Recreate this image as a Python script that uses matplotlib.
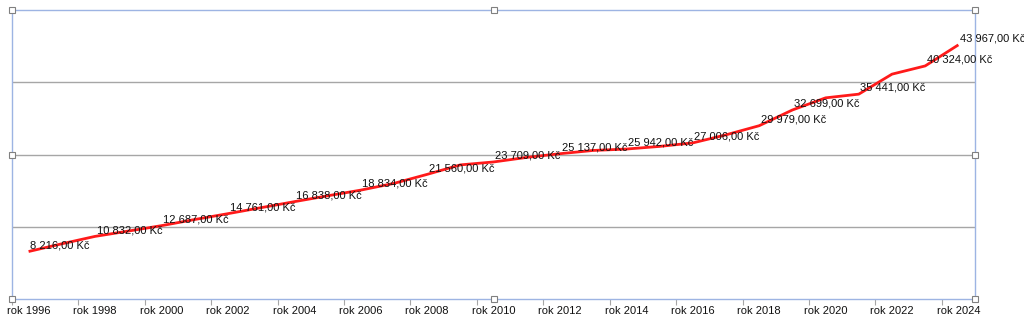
import matplotlib.pyplot as plt

# =======================================
#   DATOS
# =======================================

roky = list(range(1996, 2025))
mzdy = [8216, 9550, 10832, 11750, 12687, 13750, 14761, 15800, 16838, 17850,
        18834, 20000, 21560, 23200, 23709, 24500, 25137, 25700, 25942, 26400,
        27006, 28400, 29979, 32699, 34800, 35441, 38900, 40324, 43967]
# roky, u kterych je zobrazen popisek
roky_popisky = [1996, 1998, 2000, 2002, 2004, 2006, 2008, 2010, 2012, 2014,
                2016, 2018, 2019, 2021, 2023, 2024]
popisky_os = [f"rok {r}" for r in roky if r % 2 == 0]


def fmt_kc(v):
    return f"{v:,.2f}".replace(",", " ").replace(".", ",") + " Kč"


# =======================================
#   GRAF
# =======================================

plt.rcParams["font.family"] = ["Liberation Sans", "DejaVu Sans"]

fig = plt.figure(figsize=(10.24, 3.17), dpi=100)
ax = fig.add_axes([12 / 1024, 18 / 317, 963 / 1024, 289 / 317])

x = list(range(len(roky)))
ax.plot(x, mzdy, color="#FF1A1A", lw=2, solid_capstyle="butt", zorder=3)

for r in roky_popisky:
    i = roky.index(r)
    ax.annotate(fmt_kc(mzdy[i]), (i, mzdy[i]), xytext=(1.2, 4.5),
                textcoords="offset points", ha="left", va="center",
                fontsize=8, color="#111111", zorder=4, annotation_clip=False)

ax.set_xlim(-0.5, len(roky) - 0.5)
ax.set_ylim(0, 50000)

# osa x: carky mezi kategoriemi, popisky uprostred
ax.set_xticks([i - 0.5 for i in range(0, len(roky), 2)])
ax.set_xticklabels([])
ax.set_xticks([i for i, r in enumerate(roky) if r % 2 == 0], minor=True)
ax.set_xticklabels(popisky_os, minor=True, fontsize=8, color="#111111")
ax.tick_params(axis="x", which="major", length=4, color="#A6A6A6", width=0.8)
ax.tick_params(axis="x", which="minor", length=0, pad=5)

ax.set_yticks([12500, 25000, 37500])
ax.tick_params(axis="y", length=0, labelleft=False)
ax.grid(axis="y", color="#A6A6A6", lw=1)
ax.set_axisbelow(True)

for s in ax.spines.values():
    s.set_color("#9DB4E3")
    s.set_linewidth(1)

# uchyty vybrane oblasti grafu
hx = [0, 0.5, 1, 0, 1, 0, 0.5, 1]
hy = [1, 1, 1, 0.5, 0.5, 0, 0, 0]
ax.plot(hx, hy, ls="none", marker="s", ms=4, mfc="white", mec="#808080",
        mew=0.8, transform=ax.transAxes, clip_on=False, zorder=5)

fig.savefig("out.png", dpi=100)
plt.close(fig)
